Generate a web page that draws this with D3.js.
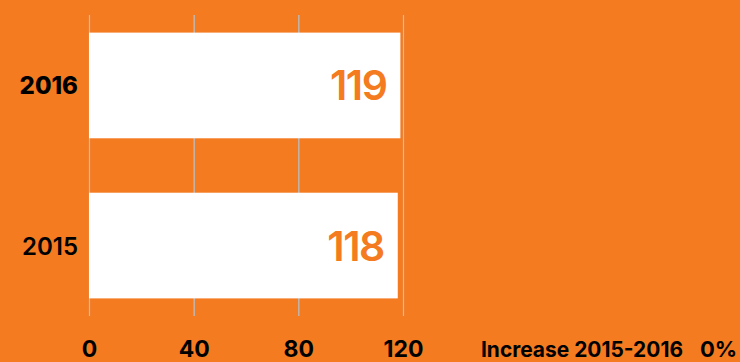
<!DOCTYPE html>
<html>
<head>
<meta charset="utf-8">
<script src="https://cdn.jsdelivr.net/npm/d3@7"></script>
<style>
  html, body { margin: 0; padding: 0; background: #F47B20; }
  svg { display: block; }
  text { font-family: Inter, "Liberation Sans", sans-serif; }
</style>
</head>
<body>
<svg id="chart" width="740" height="362"></svg>
<script>
const years = ["2016", "2015"];
const values = [119, 118];
const xTicks = [0, 40, 80, 120];
const increaseLabel = "Increase 2015-2016";
const increaseValue = "0%";

const BG = "#F47B20";
const svg = d3.select("#chart");
svg.append("rect").attr("width", 740).attr("height", 362).attr("fill", BG);

const x = d3.scaleLinear().domain([0, 120]).range([89, 403]);
const y = d3.scaleBand().domain(years).range([15, 316]).paddingInner(0.34).paddingOuter(0.11);

// gridlines
svg.append("g").selectAll("line").data(xTicks).join("line")
  .attr("x1", d => x(d) + 0.5).attr("x2", d => x(d) + 0.5)
  .attr("y1", 15).attr("y2", 316)
  .attr("stroke", "#b7c3cf").attr("stroke-width", 1.2);

const data = years.map((yr, i) => ({ year: yr, value: values[i] }));

// bars
svg.append("g").selectAll("rect").data(data).join("rect")
  .attr("x", x(0))
  .attr("y", d => y(d.year))
  .attr("width", d => x(d.value) - x(0))
  .attr("height", y.bandwidth())
  .attr("fill", "#ffffff");

// value labels
svg.append("g").selectAll("text").data(data).join("text")
  .attr("x", d => x(d.value) - 14)
  .attr("y", d => y(d.year) + y.bandwidth() / 2 + 15)
  .attr("text-anchor", "end")
  .attr("font-size", 41)
  .attr("font-weight", 600)
  .attr("letter-spacing", -1.5)
  .attr("fill", BG)
  .text(d => d.value);

// y labels
svg.append("g").selectAll("text").data(data).join("text")
  .attr("x", 78)
  .attr("y", d => y(d.year) + y.bandwidth() / 2 + 9)
  .attr("text-anchor", "end")
  .attr("font-size", 24)
  .attr("font-weight", (d, i) => i === 0 ? 800 : 600)
  .attr("fill", "#000")
  .text(d => d.year);

// x tick labels
svg.append("g").selectAll("text").data(xTicks).join("text")
  .attr("x", d => x(d) + 0.5)
  .attr("y", 357)
  .attr("text-anchor", "middle")
  .attr("font-size", 23)
  .attr("font-weight", 700)
  .attr("fill", "#000")
  .text(d => d);

// increase annotation
svg.append("text")
  .attr("x", 481).attr("y", 357)
  .attr("font-size", 21).attr("font-weight", 700)
  .attr("textLength", 202).attr("lengthAdjust", "spacingAndGlyphs")
  .attr("fill", "#000")
  .text(increaseLabel);
svg.append("text")
  .attr("x", 700).attr("y", 357)
  .attr("font-size", 22).attr("font-weight", 700)
  .attr("fill", "#000")
  .text(increaseValue);
</script>
</body>
</html>
